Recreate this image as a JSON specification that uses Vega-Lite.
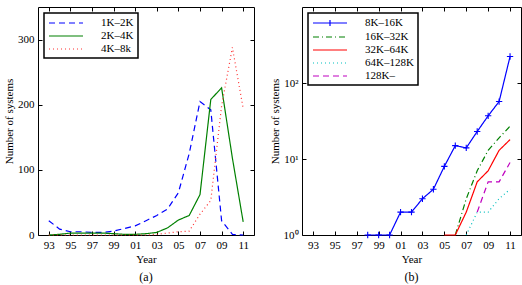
{
  "$schema": "https://vega.github.io/schema/vega-lite/v6.json",
  "padding": {"left": 3, "top": 6, "right": 3, "bottom": 0},
  "spacing": 13,
  "resolve": {"scale": {"color": "independent", "strokeDash": "independent"}, "legend": {"color": "independent", "strokeDash": "independent"}},
  "datasets": {
    "a": [
      {"year": 1993, "series": "1K–2K", "n": 22}, {"year": 1994, "series": "1K–2K", "n": 9},
      {"year": 1995, "series": "1K–2K", "n": 5}, {"year": 1996, "series": "1K–2K", "n": 5},
      {"year": 1997, "series": "1K–2K", "n": 4}, {"year": 1998, "series": "1K–2K", "n": 4},
      {"year": 1999, "series": "1K–2K", "n": 6}, {"year": 2000, "series": "1K–2K", "n": 10},
      {"year": 2001, "series": "1K–2K", "n": 14}, {"year": 2002, "series": "1K–2K", "n": 22},
      {"year": 2003, "series": "1K–2K", "n": 30}, {"year": 2004, "series": "1K–2K", "n": 40},
      {"year": 2005, "series": "1K–2K", "n": 65}, {"year": 2006, "series": "1K–2K", "n": 125},
      {"year": 2007, "series": "1K–2K", "n": 205}, {"year": 2008, "series": "1K–2K", "n": 192},
      {"year": 2009, "series": "1K–2K", "n": 22}, {"year": 2010, "series": "1K–2K", "n": 1},
      {"year": 2011, "series": "1K–2K", "n": 0},
      {"year": 1993, "series": "2K–4K", "n": 0}, {"year": 1994, "series": "2K–4K", "n": 1},
      {"year": 1995, "series": "2K–4K", "n": 3}, {"year": 1996, "series": "2K–4K", "n": 3},
      {"year": 1997, "series": "2K–4K", "n": 3}, {"year": 1998, "series": "2K–4K", "n": 3},
      {"year": 1999, "series": "2K–4K", "n": 2}, {"year": 2000, "series": "2K–4K", "n": 1},
      {"year": 2001, "series": "2K–4K", "n": 1}, {"year": 2002, "series": "2K–4K", "n": 2},
      {"year": 2003, "series": "2K–4K", "n": 4}, {"year": 2004, "series": "2K–4K", "n": 11},
      {"year": 2005, "series": "2K–4K", "n": 23}, {"year": 2006, "series": "2K–4K", "n": 30},
      {"year": 2007, "series": "2K–4K", "n": 62}, {"year": 2008, "series": "2K–4K", "n": 208},
      {"year": 2009, "series": "2K–4K", "n": 226}, {"year": 2010, "series": "2K–4K", "n": 118},
      {"year": 2011, "series": "2K–4K", "n": 20},
      {"year": 1993, "series": "4K–8k", "n": 0}, {"year": 1994, "series": "4K–8k", "n": 0},
      {"year": 1995, "series": "4K–8k", "n": 0}, {"year": 1996, "series": "4K–8k", "n": 0},
      {"year": 1997, "series": "4K–8k", "n": 0}, {"year": 1998, "series": "4K–8k", "n": 0},
      {"year": 1999, "series": "4K–8k", "n": 0}, {"year": 2000, "series": "4K–8k", "n": 0},
      {"year": 2001, "series": "4K–8k", "n": 0}, {"year": 2002, "series": "4K–8k", "n": 0},
      {"year": 2003, "series": "4K–8k", "n": 1}, {"year": 2004, "series": "4K–8k", "n": 3},
      {"year": 2005, "series": "4K–8k", "n": 5}, {"year": 2006, "series": "4K–8k", "n": 6},
      {"year": 2007, "series": "4K–8k", "n": 32}, {"year": 2008, "series": "4K–8k", "n": 53},
      {"year": 2009, "series": "4K–8k", "n": 198}, {"year": 2010, "series": "4K–8k", "n": 288},
      {"year": 2011, "series": "4K–8k", "n": 194}
    ],
    "b": [
      {"year": 1998, "series": "8K–16K", "n": 1}, {"year": 1999, "series": "8K–16K", "n": 1},
      {"year": 2000, "series": "8K–16K", "n": 1}, {"year": 2001, "series": "8K–16K", "n": 2},
      {"year": 2002, "series": "8K–16K", "n": 2}, {"year": 2003, "series": "8K–16K", "n": 3},
      {"year": 2004, "series": "8K–16K", "n": 4}, {"year": 2005, "series": "8K–16K", "n": 8},
      {"year": 2006, "series": "8K–16K", "n": 15}, {"year": 2007, "series": "8K–16K", "n": 14},
      {"year": 2008, "series": "8K–16K", "n": 23}, {"year": 2009, "series": "8K–16K", "n": 37},
      {"year": 2010, "series": "8K–16K", "n": 57}, {"year": 2011, "series": "8K–16K", "n": 223},
      {"year": 2006, "series": "16K–32K", "n": 1}, {"year": 2007, "series": "16K–32K", "n": 3},
      {"year": 2008, "series": "16K–32K", "n": 7}, {"year": 2009, "series": "16K–32K", "n": 13},
      {"year": 2010, "series": "16K–32K", "n": 19}, {"year": 2011, "series": "16K–32K", "n": 27},
      {"year": 2005, "series": "32K–64K", "n": 1}, {"year": 2006, "series": "32K–64K", "n": 1},
      {"year": 2007, "series": "32K–64K", "n": 2}, {"year": 2008, "series": "32K–64K", "n": 5},
      {"year": 2009, "series": "32K–64K", "n": 7}, {"year": 2010, "series": "32K–64K", "n": 13},
      {"year": 2011, "series": "32K–64K", "n": 18},
      {"year": 2007, "series": "64K–128K", "n": 1}, {"year": 2008, "series": "64K–128K", "n": 2},
      {"year": 2009, "series": "64K–128K", "n": 2}, {"year": 2010, "series": "64K–128K", "n": 3},
      {"year": 2011, "series": "64K–128K", "n": 4},
      {"year": 2008, "series": "128K–", "n": 2}, {"year": 2009, "series": "128K–", "n": 5},
      {"year": 2010, "series": "128K–", "n": 5}, {"year": 2011, "series": "128K–", "n": 9}
    ]
  },
  "config": {
    "font": "Times New Roman, Liberation Serif, serif",
    "view": {"stroke": "black", "strokeWidth": 1},
    "axis": {
      "labelFont": "Times New Roman, Liberation Serif, serif", "labelFontSize": 11, "labelColor": "black",
      "titleFont": "Times New Roman, Liberation Serif, serif", "titleFontSize": 11, "titleFontWeight": "normal", "titleColor": "black",
      "domain": false, "grid": false, "tickColor": "black", "tickSize": -4, "tickWidth": 1,
      "labelPadding": 8, "titlePadding": 3
    },
    "legend": {
      "orient": "top-left", "offset": 6, "title": null,
      "strokeColor": "black", "strokeWidth": 1.5, "fillColor": "white",
      "padding": 4, "rowPadding": 2,
      "labelFont": "Times New Roman, Liberation Serif, serif", "labelFontSize": 11, "labelColor": "black",
      "symbolType": "M-3.4,0H3.4", "symbolSize": 100, "symbolStrokeWidth": 1.2,
      "symbolOffset": 12, "labelOffset": 29
    },
    "title": {"font": "Times New Roman, Liberation Serif, serif", "fontSize": 12, "fontWeight": "normal", "color": "black"}
  },
  "hconcat": [
    {
      "width": 216, "height": 228,
      "title": {"text": "(a)", "orient": "bottom", "offset": 8},
      "data": {"name": "a"},
      "layer": [
        {
          "mark": {"type": "line", "strokeWidth": 1.2},
          "encoding": {
            "x": {"field": "year", "type": "quantitative", "scale": {"domain": [1992, 2012]},
              "axis": {"values": [1993, 1995, 1997, 1999, 2001, 2003, 2005, 2007, 2009, 2011],
                "labelExpr": "substring(toString(datum.value), 2)", "title": "Year"}},
            "y": {"field": "n", "type": "quantitative", "scale": {"domain": [0, 320]},
              "axis": {"values": [0, 100, 200, 300], "title": "Number of systems"}},
            "color": {"field": "series", "type": "nominal",
              "scale": {"domain": ["1K–2K", "2K–4K", "4K–8k"], "range": ["#0000ff", "#008000", "#ff3030"]}},
            "strokeDash": {"field": "series", "type": "nominal",
              "scale": {"domain": ["1K–2K", "2K–4K", "4K–8k"], "range": [[6, 4], [1, 0], [1, 3]]}}
          }
        },
        {
          "mark": {"type": "line", "opacity": 0},
          "encoding": {
            "x": {"field": "year", "type": "quantitative",
              "axis": {"orient": "top", "values": [1993, 1995, 1997, 1999, 2001, 2003, 2005, 2007, 2009, 2011], "labels": false, "title": null}},
            "y": {"field": "n", "type": "quantitative",
              "axis": {"orient": "right", "values": [0, 100, 200, 300], "labels": false, "title": null}},
            "detail": {"field": "series"}
          }
        }
      ],
      "resolve": {"axis": {"x": "independent", "y": "independent"}}
    },
    {
      "width": 219, "height": 228,
      "title": {"text": "(b)", "orient": "bottom", "offset": 8},
      "data": {"name": "b"},
      "layer": [
        {
          "mark": {"type": "line", "strokeWidth": 1.2},
          "encoding": {
            "x": {"field": "year", "type": "quantitative", "scale": {"domain": [1992, 2012]},
              "axis": {"values": [1993, 1995, 1997, 1999, 2001, 2003, 2005, 2007, 2009, 2011],
                "labelExpr": "substring(toString(datum.value), 2)", "title": "Year"}},
            "y": {"field": "n", "type": "quantitative", "scale": {"type": "log", "domain": [1, 260]},
              "axis": {"values": [1, 10, 100], "title": "Number of systems",
                "labelExpr": "datum.value == 1 ? '10⁰' : datum.value == 10 ? '10¹' : '10²'"}},
            "color": {"field": "series", "type": "nominal",
              "scale": {"domain": ["8K–16K", "16K–32K", "32K–64K", "64K–128K", "128K–"],
                "range": ["#0000ff", "#008000", "#ff0000", "#00bfbf", "#bf00bf"]},
              "legend": {"encode": {"symbols": {"update": {"shape": {"signal": "datum.value === '8K–16K' ? 'M-3.4,0H3.4M0,-0.6V0.6' : 'M-3.4,0H3.4'"}}}}}},
            "strokeDash": {"field": "series", "type": "nominal",
              "scale": {"domain": ["8K–16K", "16K–32K", "32K–64K", "64K–128K", "128K–"],
                "range": [[1, 0], [6, 3, 1, 3], [1, 0], [1, 3], [6, 4]]}}
          }
        },
        {
          "transform": [{"filter": "datum.series === '8K–16K'"}],
          "mark": {"type": "point", "shape": "M-1,0H1M0,-1V1", "size": 40, "filled": false, "color": "#0000ff", "strokeWidth": 1.1, "opacity": 1},
          "encoding": {
            "x": {"field": "year", "type": "quantitative", "axis": null},
            "y": {"field": "n", "type": "quantitative", "axis": null}
          }
        },
        {
          "mark": {"type": "line", "opacity": 0},
          "encoding": {
            "x": {"field": "year", "type": "quantitative",
              "axis": {"orient": "top", "values": [1993, 1995, 1997, 1999, 2001, 2003, 2005, 2007, 2009, 2011], "labels": false, "title": null}},
            "y": {"field": "n", "type": "quantitative",
              "axis": {"orient": "right", "values": [1, 10, 100], "labels": false, "title": null}},
            "detail": {"field": "series"}
          }
        }
      ],
      "resolve": {"axis": {"x": "independent", "y": "independent"}}
    }
  ]
}
